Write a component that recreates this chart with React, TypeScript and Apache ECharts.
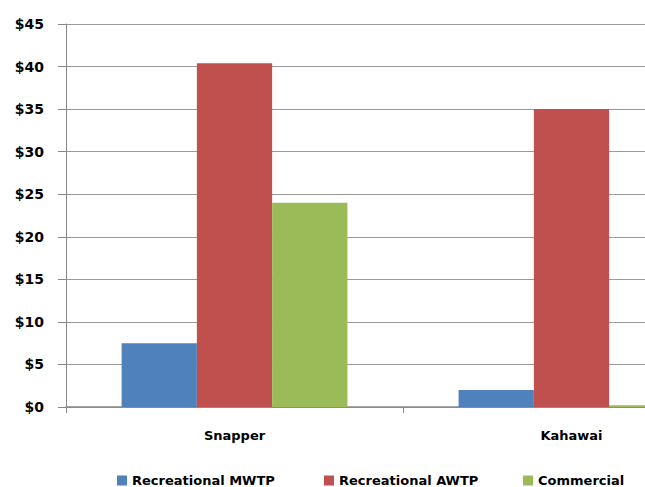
import React, { useEffect, useRef } from "react";
import * as echarts from "echarts";

const categories = ["Snapper", "Kahawai"];
const seriesNames = ["Recreational MWTP", "Recreational AWTP", "Commercial"];
const mwtp = [7.5, 2.0];
const awtp = [40.4, 35.0];
const commercial = [24.0, 0.2];
const colors = ["#4F81BD", "#C0504D", "#9BBB59"];
const legendLeft = [112, 319, 518];

export default function App() {
  const ref = useRef<HTMLDivElement>(null);
  useEffect(() => {
    document.body.style.margin = "0";
    document.body.style.overflow = "hidden";
    const chart = echarts.init(ref.current!, null, { renderer: "svg" });
    const font = "DejaVu Sans";
    const values = [mwtp, awtp, commercial];
    chart.setOption({
      animation: false,
      grid: { left: 66, top: 24, right: 20, bottom: 80 },
      legend: seriesNames.map((n, i) => ({
        data: [n],
        left: legendLeft[i],
        top: 469,
        itemWidth: 10,
        itemHeight: 10,
        itemGap: 0,
        icon: "rect",
        textStyle: { fontFamily: font, fontWeight: "bold", fontSize: 13, color: "#000" },
      })),
      xAxis: {
        type: "category",
        data: categories,
        axisLine: { lineStyle: { color: "#888", width: 1.5 } },
        axisTick: { show: true, length: 6, lineStyle: { color: "#888" } },
        axisLabel: { fontFamily: font, fontWeight: "bold", fontSize: 13, color: "#000", margin: 22 },
      },
      yAxis: {
        type: "value",
        min: 0,
        max: 45,
        interval: 5,
        axisLine: { show: true, lineStyle: { color: "#888" } },
        axisTick: { show: true, length: 8, lineStyle: { color: "#888" } },
        splitLine: { lineStyle: { color: "#999", width: 1 } },
        axisLabel: {
          fontFamily: font,
          fontWeight: "bold",
          fontSize: 14,
          color: "#000",
          margin: 22,
          formatter: (v: number) => "$" + v,
        },
      },
      series: seriesNames.map((n, i) => ({
        name: n,
        type: "bar",
        data: values[i],
        barGap: "0%",
        barCategoryGap: "33%",
        itemStyle: { color: colors[i] },
      })),
    });
    return () => chart.dispose();
  }, []);
  return (
    <div style={{ width: 645, height: 487, overflow: "hidden" }}>
      <div ref={ref} style={{ width: 760, height: 487 }} />
    </div>
  );
}
